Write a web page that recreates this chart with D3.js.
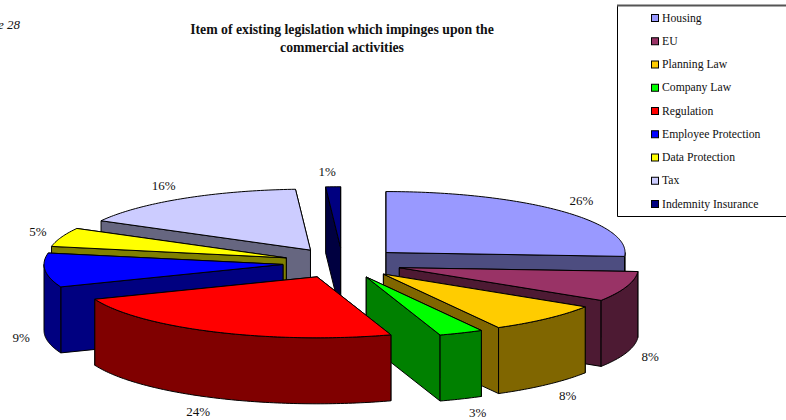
<!DOCTYPE html>
<html>
<head>
<meta charset="utf-8">
<script src="https://cdn.jsdelivr.net/npm/d3@7"></script>
<style>
  html, body { margin: 0; padding: 0; background: #fff; overflow: hidden; }
  text { font-family: "Liberation Serif", serif; fill: #111; }
</style>
</head>
<body>
<svg id="chart" width="786" height="420"></svg>
<script>
/* chart values */
const categories = ["Housing", "EU", "Planning Law", "Company Law", "Regulation",
    "Employee Protection", "Data Protection", "Tax", "Indemnity Insurance"];
const shares = [26, 8, 8, 3, 24, 9, 5, 16, 1];
const topColors = ["#9999ff", "#993366", "#ffcc00", "#00ff00", "#ff0000",
    "#0000ff", "#ffff00", "#ccccff", "#000080"];
const sideColors = ["#4d4d80", "#4d1a33", "#806600", "#008000", "#800000",
    "#000080", "#808000", "#666680", "#000040"];
/* back to front, the slices overlap each other */
const drawOrder = ["Tax", "Indemnity Insurance", "Housing", "Data Protection",
    "Employee Protection", "EU", "Planning Law", "Company Law", "Regulation"];
const titleLines = ["Item of existing legislation which impinges upon the", "commercial activities"];

const svg = d3.select("#chart");

/* ellipse of the pie, the unit circle is mapped on it */
const x = d3.scaleLinear().domain([-1, 1]).range([342.5 - 239, 342.5 + 239]);
const y = d3.scaleLinear().domain([-1, 1]).range([263 - 61, 263 + 61]);
const depth = 66;
const explode = 0.25;

const slices = d3.pie().sort(null).value(function(d) { return d; })(shares);
slices.forEach(function(s, i) {
    s.name = categories[i];
    s.mid = (s.startAngle + s.endAngle) / 2;
    s.ox = explode * Math.sin(s.mid);
    s.oy = -explode * Math.cos(s.mid);
});

function rim(s, a, drop) {
    return [x(s.ox + Math.sin(a)), y(s.oy - Math.cos(a)) + (drop || 0)];
}
function tip(s, drop) {
    return [x(s.ox), y(s.oy) + (drop || 0)];
}
function arcPoints(s, a0, a1, drop) {
    let n = Math.max(2, Math.ceil((a1 - a0) * 60));
    return d3.range(n + 1).map(function(k) { return rim(s, a0 + (a1 - a0) * k / n, drop); });
}

const line = d3.line();

function wallPath(s, a) {
    return line([tip(s), rim(s, a), rim(s, a, depth), tip(s, depth)]) + "Z";
}

function drawSlice(s) {
    let g = svg.append("g")
        .attr("stroke", "#000")
        .attr("stroke-width", 1)
        .attr("stroke-linejoin", "round");
    let i = categories.indexOf(s.name);
    let side = sideColors[i];

    /* radial walls, the one facing away first */
    let walls = [s.startAngle, s.endAngle];
    walls.sort(function(a, b) { return Math.cos(b) - Math.cos(a); });
    walls.forEach(function(a) {
        g.append("path").attr("d", wallPath(s, a)).attr("fill", side);
    });

    /* outer wall, only the front half of the rim can be seen */
    let a0 = Math.max(s.startAngle, Math.PI / 2);
    let a1 = Math.min(s.endAngle, 3 * Math.PI / 2);
    if (a1 > a0) {
        let pts = arcPoints(s, a0, a1).concat(arcPoints(s, a0, a1, depth).reverse());
        g.append("path").attr("d", line(pts) + "Z").attr("fill", side);
    }

    /* top face */
    let top = [tip(s)].concat(arcPoints(s, s.startAngle, s.endAngle));
    g.append("path").attr("d", line(top) + "Z").attr("fill", topColors[i]);
}

drawOrder.forEach(function(name) {
    drawSlice(slices[categories.indexOf(name)]);
});

/* percent labels sit just outside of the rim */
slices.forEach(function(s, i) {
    let sin = Math.sin(s.mid), cos = Math.cos(s.mid);
    let p = rim(s, s.mid, cos < 0 ? depth : 0);
    svg.append("text")
        .attr("x", p[0] + Math.sign(sin) * Math.pow(Math.abs(sin), 0.4) * 24)
        .attr("y", p[1] - cos * 15 + 4)
        .attr("text-anchor", "middle")
        .attr("font-size", 13)
        .text(shares[i] + "%");
});

/* title */
svg.selectAll(".title")
    .data(titleLines)
    .enter().append("text")
    .attr("class", "title")
    .attr("x", 342)
    .attr("y", function(d, i) { return 34 + i * 18; })
    .attr("text-anchor", "middle")
    .attr("font-size", 13.75)
    .attr("font-weight", "bold")
    .text(function(d) { return d; });

/* clipped by the page edge in the reference */
svg.append("text")
    .attr("x", 20)
    .attr("y", 29)
    .attr("text-anchor", "end")
    .attr("font-size", 13)
    .attr("font-style", "italic")
    .text("Table 28");

/* legend, its right side runs off the page */
svg.append("path")
    .attr("d", "M617.5,5.5V216.5H786")
    .attr("fill", "none")
    .attr("stroke", "#000");
svg.append("line")
    .attr("x1", 617).attr("x2", 786)
    .attr("y1", 5.5).attr("y2", 5.5)
    .attr("stroke", "#555")
    .attr("stroke-width", 2);

const legendY = d3.scalePoint().domain(categories).range([18, 204]);
const legend = svg.selectAll(".legend")
    .data(categories)
    .enter().append("g")
    .attr("class", "legend")
    .attr("transform", function(d) { return "translate(651," + legendY(d) + ")"; });
legend.append("rect")
    .attr("x", 0.5).attr("y", -3.5)
    .attr("width", 7).attr("height", 7)
    .attr("fill", function(d, i) { return topColors[i]; })
    .attr("stroke", "#000");
legend.append("text")
    .attr("x", 11)
    .attr("y", 3.5)
    .attr("font-size", 11.7)
    .text(function(d) { return d; });
</script>
</body>
</html>
